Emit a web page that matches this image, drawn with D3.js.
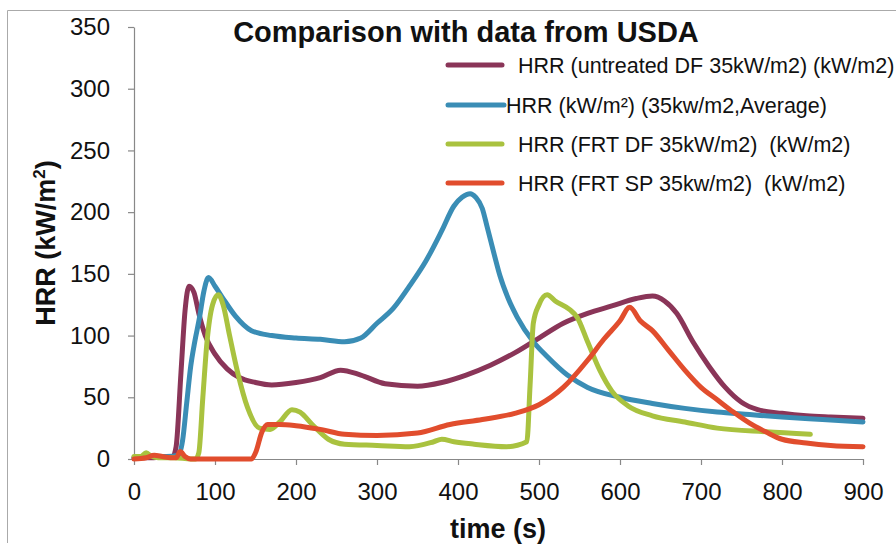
<!doctype html>
<html lang="en">
<head>
  <meta charset="utf-8">
  <title>Comparison with data from USDA</title>
  <script src="https://cdn.jsdelivr.net/npm/d3@7"></script>
  <style>
    body { margin: 0; background: #fff; }
    svg { display: block; font-family: "Liberation Sans", Arial, sans-serif; }
  </style>
</head>
<body>
  <svg id="chart" width="896" height="546"></svg>
  <script>
    // values (time in s, HRR in kW/m2)
    var untreatedT = [0,20,40,48,52,58,63,68,74,80,88,100,115,130,150,170,200,230,255,280,310,350,380,410,440,470,500,530,560,590,620,640,655,670,690,710,730,750,770,800,830,860,900];
    var untreatedV = [1,1,2,2,10,70,120,140,135,118,100,85,73,66,62,60,62,66,72,68,61,59,62,68,76,86,98,110,118,124,130,132,128,118,95,75,58,46,40,37,35,34,33];

    var averageT = [0,20,40,55,60,65,70,75,81,86,92,100,110,125,145,170,200,230,260,280,300,320,340,360,380,395,405,415,422,430,436,445,452,462,473,493,510,535,560,600,640,680,720,760,800,850,900];
    var averageV = [1,2,2,3,15,45,75,95,115,135,147,140,130,116,104,100,98,97,95,98,110,122,140,160,185,205,212,215,212,203,188,165,148,130,115,95,83,68,58,50,45,41,38,36,34,32,30];

    var frtDfT = [0,8,15,22,30,50,70,76,80,85,90,97,104,110,118,128,140,155,168,180,195,205,220,240,260,300,340,370,380,395,420,460,485,489,493,500,510,520,538,547,560,575,590,610,640,680,720,780,835];
    var frtDfV = [2,2,5,2,1,1,0,0,5,50,94,125,133,125,100,70,42,25,24,30,40,38,28,16,12,11,10,14,16,14,12,10,14,60,110,125,133,128,121,115,95,72,55,43,35,30,25,22,20];

    var frtSpT = [0,15,25,35,45,52,57,63,70,100,145,150,158,165,180,200,230,260,300,350,390,430,470,500,530,560,580,600,612,625,640,660,680,700,720,740,760,780,800,830,860,900];
    var frtSpV = [0,1,3,2,1,1,6,2,0,0,0,5,22,28,28,27,24,20,19,21,28,32,37,44,58,80,97,112,123,112,104,88,72,58,48,38,29,22,16,13,11,10];

    var seriesNames = [
      "HRR (untreated DF 35kW/m2) (kW/m2)",
      "HRR (kW/m\u00b2) (35kw/m2,Average)",
      "HRR (FRT DF 35kW/m2)  (kW/m2)",
      "HRR (FRT SP 35kw/m2)  (kW/m2)"
    ];
    var seriesColors = ["#8a3558", "#3a8db5", "#a9c23f", "#e14d2d"];
    var xTicks = [0,100,200,300,400,500,600,700,800,900];
    var yTicks = [0,50,100,150,200,250,300,350];

    var series = [
      {name: seriesNames[0], color: seriesColors[0], t: untreatedT, v: untreatedV},
      {name: seriesNames[1], color: seriesColors[1], t: averageT, v: averageV},
      {name: seriesNames[2], color: seriesColors[2], t: frtDfT, v: frtDfV},
      {name: seriesNames[3], color: seriesColors[3], t: frtSpT, v: frtSpV}
    ];

    var svg = d3.select("#chart");

    // thin frame around the chart area
    svg.append("path")
      .attr("d", "M7.5,543 L7.5,10.5 L896,10.5")
      .attr("fill", "none")
      .attr("stroke", "#aaa")
      .attr("stroke-width", 1);

    var x = d3.scaleLinear().domain([0, 900]).range([134, 863]);
    var y = d3.scaleLinear().domain([0, 350]).range([459, 27]);

    // axes
    var xAxis = svg.append("g")
      .attr("transform", "translate(0,459)")
      .call(d3.axisBottom(x).tickValues(xTicks).tickSize(6).tickPadding(6).tickSizeOuter(0));
    var yAxis = svg.append("g")
      .attr("transform", "translate(134,0)")
      .call(d3.axisLeft(y).tickValues(yTicks).tickSize(6).tickPadding(18).tickSizeOuter(0));

    [xAxis, yAxis].forEach(g => {
      g.attr("font-size", null).attr("font-family", null);
      g.select(".domain").attr("stroke", "#888").attr("stroke-width", 1.2);
      g.selectAll(".tick line").attr("stroke", "#888").attr("stroke-width", 1.2);
      g.selectAll(".tick text")
        .attr("fill", "#111")
        .style("font-size", "24px");
    });
    xAxis.selectAll(".tick text").attr("y", 41).attr("dy", 0);

    // data lines
    var line = d3.line()
      .x(d => x(d[0]))
      .y(d => y(d[1]))
      .curve(d3.curveMonotoneX);

    svg.append("g")
      .selectAll("path")
      .data(series)
      .enter()
      .append("path")
        .attr("d", s => line(s.t.map((t, i) => [t, s.v[i]])))
        .attr("fill", "none")
        .attr("stroke", s => s.color)
        .attr("stroke-width", 5)
        .attr("stroke-linejoin", "round")
        .attr("stroke-linecap", "round");

    // title
    svg.append("text")
      .attr("x", 466).attr("y", 42)
      .attr("text-anchor", "middle")
      .style("font-size", "29px")
      .style("font-weight", "bold")
      .attr("fill", "#111")
      .text("Comparison with data from USDA");

    // legend
    var legendRows = [65, 105, 144, 183];
    var legendTextX = [518, 506, 518, 518];
    var legend = svg.append("g")
      .selectAll("g")
      .data(series)
      .enter()
      .append("g");
    legend.append("line")
      .attr("x1", 448).attr("x2", (d, i) => i == 1 ? 504 : 502)
      .attr("y1", (d, i) => legendRows[i]).attr("y2", (d, i) => legendRows[i])
      .attr("stroke", d => d.color)
      .attr("stroke-width", 5)
      .attr("stroke-linecap", "round");
    legend.append("text")
      .attr("x", (d, i) => legendTextX[i])
      .attr("y", (d, i) => legendRows[i] + 8)
      .style("font-size", "21.5px")
      .attr("fill", "#111")
      .attr("xml:space", "preserve")
      .style("white-space", "pre")
      .text(d => d.name);

    // axis titles
    svg.append("text")
      .attr("x", 498).attr("y", 538)
      .attr("text-anchor", "middle")
      .style("font-size", "27px")
      .style("font-weight", "bold")
      .attr("fill", "#111")
      .text("time (s)");

    var yLabel = svg.append("text")
      .attr("transform", "translate(55,243) rotate(-90)")
      .attr("text-anchor", "middle")
      .style("font-size", "27px")
      .style("font-weight", "bold")
      .attr("fill", "#111");
    yLabel.append("tspan").text("HRR (kW/m");
    yLabel.append("tspan").attr("dy", -10).style("font-size", "17px").text("2");
    yLabel.append("tspan").attr("dy", 10).text(")");
  </script>
</body>
</html>
